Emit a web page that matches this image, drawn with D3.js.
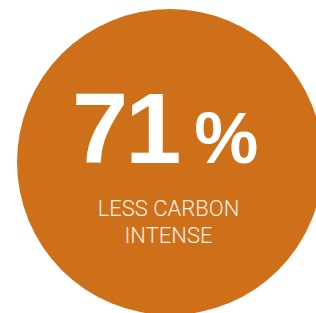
<!DOCTYPE html>
<html><head><meta charset="utf-8">
<script src="https://cdn.jsdelivr.net/npm/d3@7"></script>
<style>html,body{margin:0;padding:0;background:#fff;overflow:hidden}</style>
</head><body>
<svg id="c" width="316" height="313"></svg>
<script>
const values = [71];
const unitLabels = ["%"];
const captionLines = ["LESS CARBON", "INTENSE"];
const colors = ["#CE701A"];

const svg = d3.select("#c");
const cx = 170, cy = 162, r = 153;

svg.selectAll("circle.badge").data(values).join("circle")
  .attr("class","badge").attr("cx",cx).attr("cy",cy).attr("r",r)
  .attr("fill",(d,i)=>colors[i]);

const big = svg.append("text")
  .attr("x",72).attr("y",163)
  .attr("text-anchor","start")
  .attr("fill","#fff")
  .attr("font-family","'Liberation Sans', Arial, sans-serif")
  .attr("font-weight","bold");
big.append("tspan").attr("font-size",101).attr("letter-spacing",-3).text(d3.format("d")(values[0]));
big.append("tspan").attr("font-size",72).attr("dx",16).text(unitLabels[0]);

svg.selectAll("text.cap").data(captionLines).join("text")
  .attr("class","cap")
  .attr("x",168.5).attr("y",(d,i)=>216 + i*27)
  .attr("text-anchor","middle")
  .attr("fill","#FCEFE3")
  .attr("font-family","Roboto, sans-serif")
  .attr("font-weight",300)
  .attr("font-size",22)
  .text(d=>d);
</script>
</body></html>
